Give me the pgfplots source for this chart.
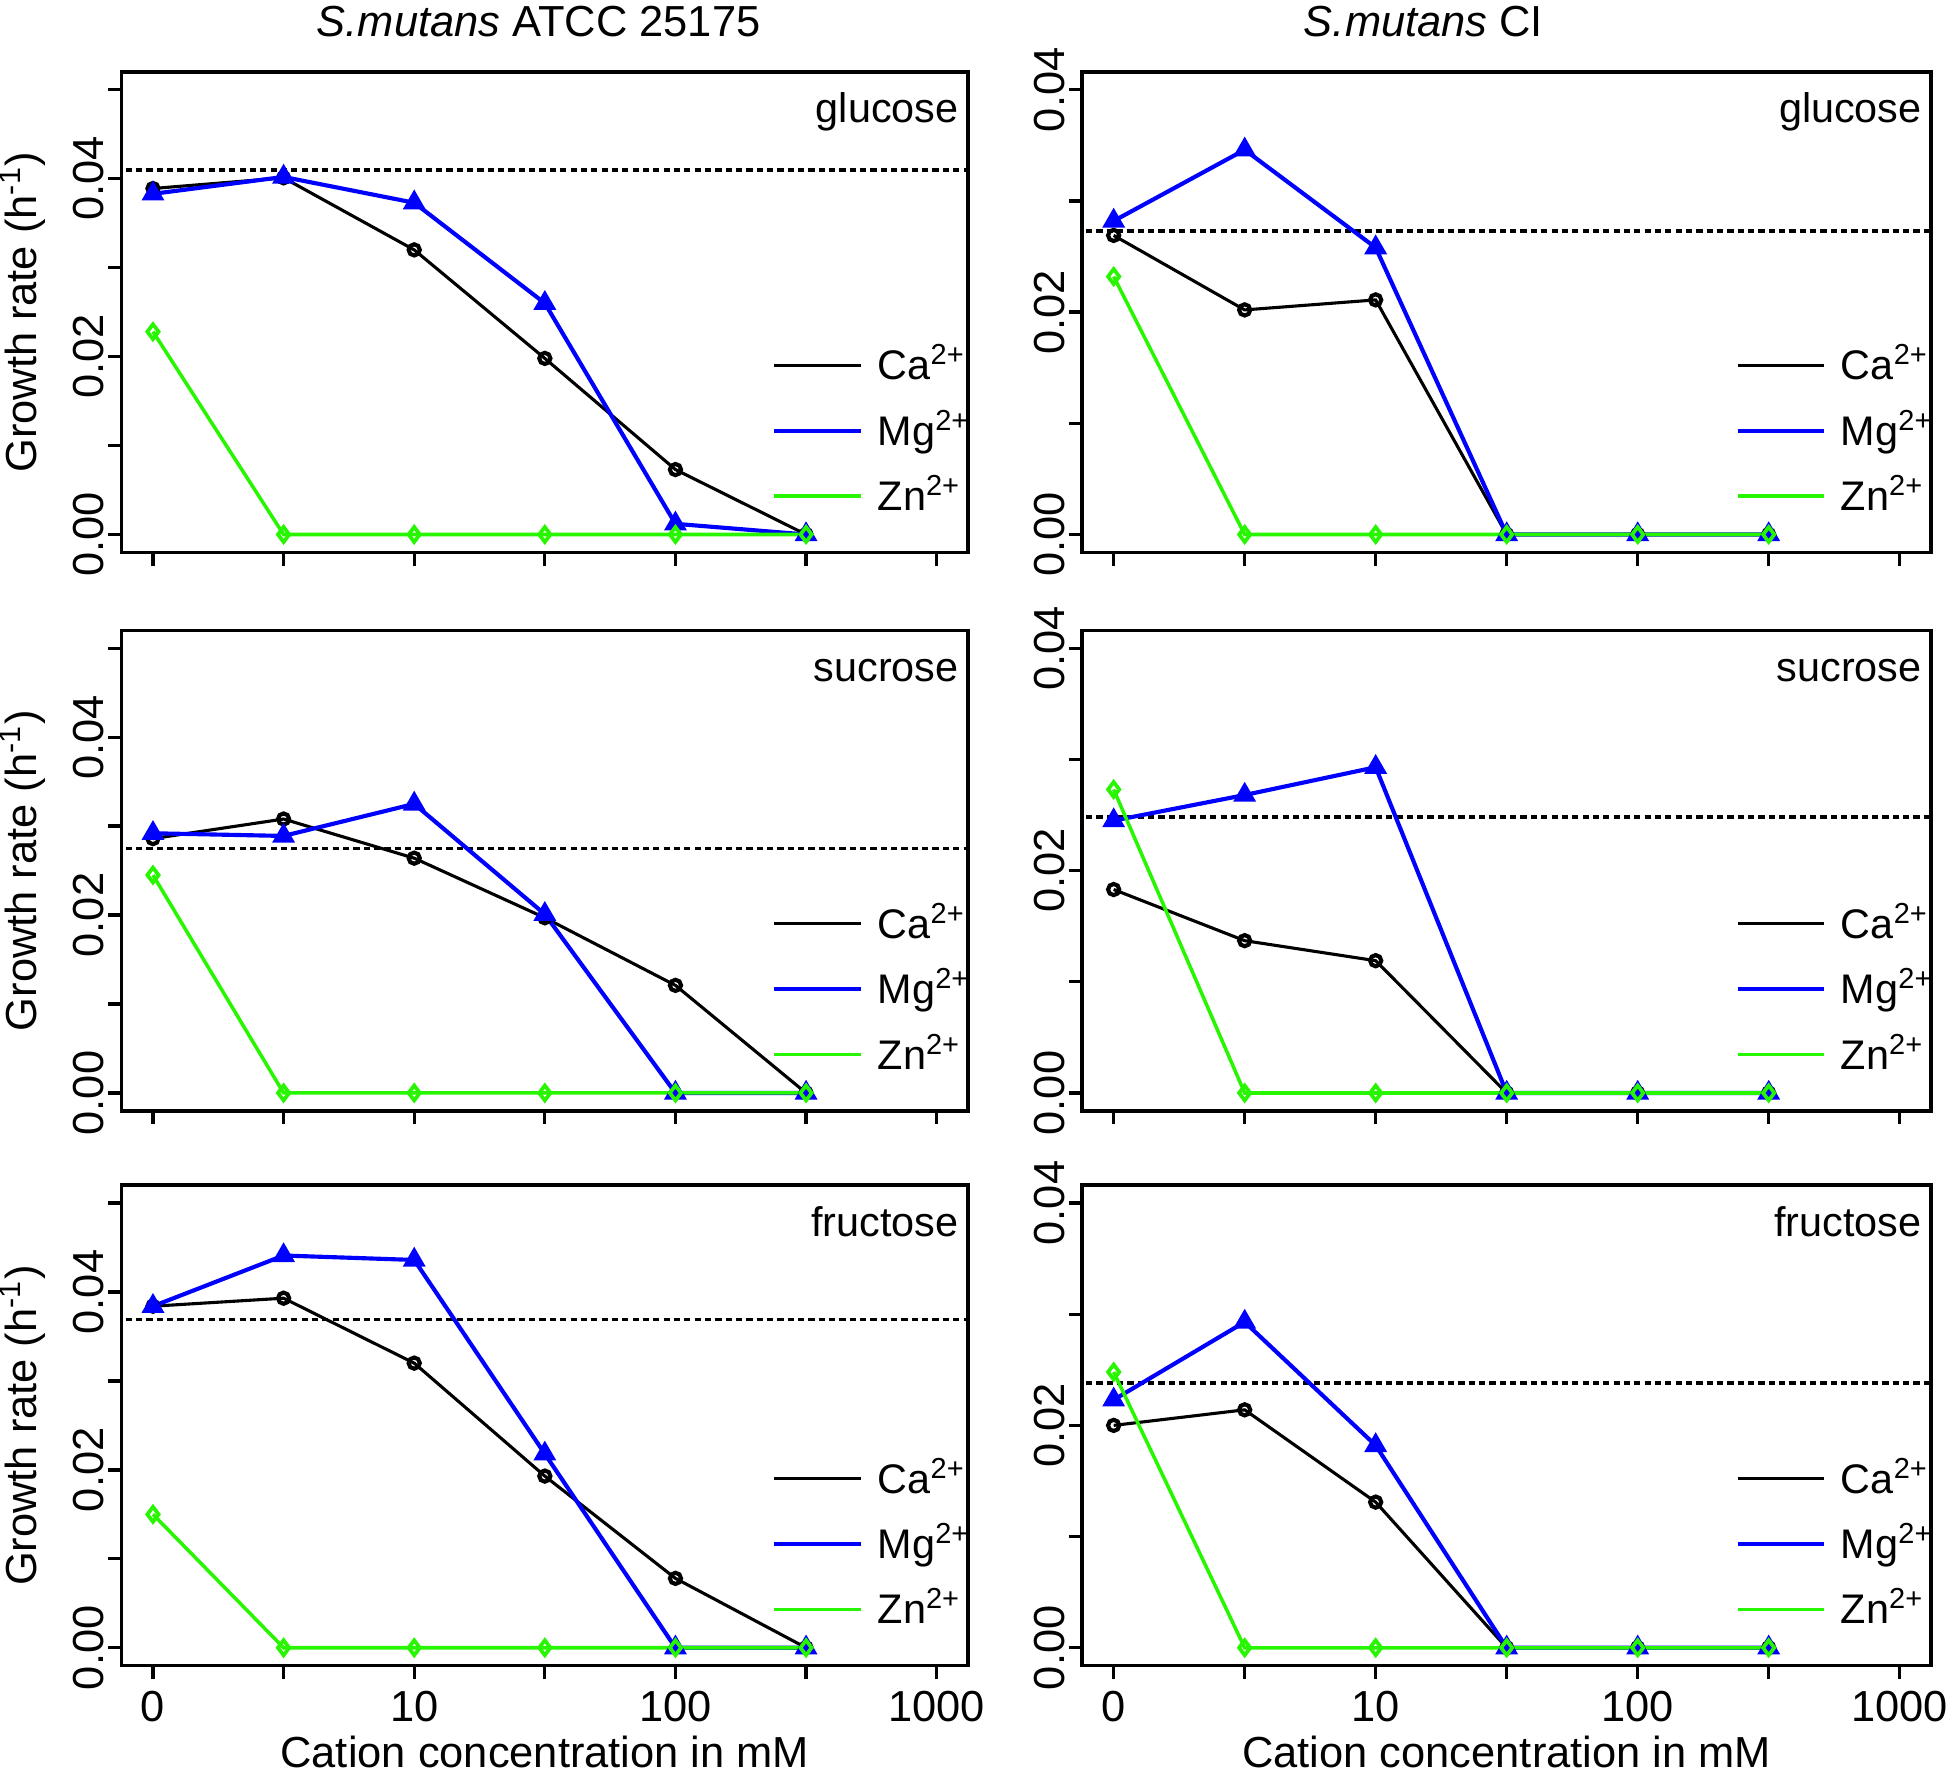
\documentclass[border=0pt]{standalone}
\usepackage{fontspec}
\setmainfont{Liberation Sans}
\usepackage{pgfplots}
\usepackage{pgfplotstable}
\pgfplotsset{compat=1.18}

\definecolor{rblue}{RGB}{0,0,255}
\definecolor{rgreen}{RGB}{40,245,0}

% x: 0 = 0 mM, 1 = 3 mM, 2 = 10 mM, 3 = 30 mM, 4 = 100 mM, 5 = 300 mM
\pgfplotstableread{
x ca mg zn
0 0.0389 0.0383 0.0228
1 0.0401 0.0402 0.0
2 0.0320 0.0373 0.0
3 0.0198 0.0260 0.0
4 0.0073 0.0012 0.0
5 0.0    0.0    0.0
}\glucA
\pgfplotstableread{
x ca mg zn
0 0.0269 0.0282 0.0232
1 0.0202 0.0346 0.0
2 0.0211 0.0258 0.0
3 0.0    0.0    0.0
4 0.0    0.0    0.0
5 0.0    0.0    0.0
}\glucB
\pgfplotstableread{
x ca mg zn
0 0.0286 0.0292 0.0245
1 0.0308 0.0289 0.0
2 0.0264 0.0325 0.0
3 0.0197 0.0201 0.0
4 0.0121 0.0    0.0
5 0.0    0.0    0.0
}\sucA
\pgfplotstableread{
x ca mg zn
0 0.0183 0.0245 0.0273
1 0.0137 0.0268 0.0
2 0.0119 0.0293 0.0
3 0.0    0.0    0.0
4 0.0    0.0    0.0
5 0.0    0.0    0.0
}\sucB
\pgfplotstableread{
x ca mg zn
0 0.0384 0.0384 0.0150
1 0.0393 0.0441 0.0
2 0.0320 0.0436 0.0
3 0.0193 0.0218 0.0
4 0.0078 0.0    0.0
5 0.0    0.0    0.0
}\fruA
\pgfplotstableread{
x ca mg zn
0 0.0200 0.0223 0.0248
1 0.0214 0.0293 0.0
2 0.0131 0.0182 0.0
3 0.0    0.0    0.0
4 0.0    0.0    0.0
5 0.0    0.0    0.0
}\fruB

\newcommand{\fnt}{\fontsize{10.5}{12.6}\selectfont}
\newcommand{\fnts}{\fontsize{10}{12}\selectfont}

\pgfplotsset{
  every axis title shift=0pt,
  panel/.style={
    scale only axis, height=116.1pt,
    xmin=-0.24, xmax=6.24,
    axis line style={line width=0.85pt},
    tick align=outside, tick pos=left,
    major tick length=3.2pt,
    tick style={black, line width=0.8pt},
    scaled y ticks=false,
    xtick={0,1,2,3,4,5,6}, xticklabels={},
    ticklabel style={font=\fnt},
    xticklabel style={anchor=north, inner sep=0pt, yshift=-2.7pt},
    yticklabel style={xshift=-0.9pt, rotate=90, anchor=south, inner sep=0pt},
    legend style={draw=none, fill=none, font=\fnts,
      at={([xshift=-47.5pt]axis description cs:1,0.253)}, anchor=west,
      inner sep=0pt, row sep=4.8pt, column sep=3pt,
      nodes={inner sep=0.5pt}},
    legend cell align=left,
    legend image code/.code={\draw[##1,mark=none] (0pt,0pt) -- (21pt,0pt);},
    title style={anchor=base, yshift=8.6pt, inner sep=0pt, font=\fnt},
    xlabel style={at={(axis description cs:0.5,0)}, anchor=north,
      yshift=-16.8pt, inner sep=0pt, font=\fnt},
    ylabel style={at={(axis description cs:-0.1173,0.5)}, anchor=center,
      inner sep=0pt, font=\fnt},
  },
  leftpanel/.style={panel, width=204.6pt,
    ymin=-0.002, ymax=0.052,
    ytick={0,0.01,0.02,0.03,0.04,0.05}, yticklabels={0.00,,0.02,,0.04,},
    ylabel={Growth rate (h\textsuperscript{-1})}},
  rightpanel/.style={panel, width=205.2pt,
    ymin=-0.0016, ymax=0.0416,
    ytick={0,0.01,0.02,0.03,0.04}, yticklabels={0.00,,0.02,,0.04}},
  bottomrow/.style={xticklabels={0,,10,,100,,1000},
    xlabel={Cation concentration in mM}},
  ca/.style={black, line width=0.75pt, mark=o, mark size=1.35pt,
    mark options={line width=1pt}},
  mg/.style={rblue, line width=1pt, mark=triangle*, mark size=2.2pt},
  zn/.style={rgreen, line width=0.85pt, mark=diamond, mark size=1.8pt,
    mark options={line width=0.9pt}},
  refl/.style={black, line width=0.9pt, dash pattern=on 1.5pt off 1pt,
    forget plot},
}

\newcommand{\panellabel}[1]{\node[anchor=base east, inner sep=0pt, font=\fnts]
  at ([xshift=-2.1pt,yshift=-12.3pt]rel axis cs:1,1) {#1};}
\newcommand{\series}[1]{%
  \addplot[ca] table[x=x,y=ca]{#1};
  \addplot[mg] table[x=x,y=mg]{#1};
  \addplot[zn] table[x=x,y=zn]{#1};
  \legend{Ca\textsuperscript{2+},Mg\textsuperscript{2+},Zn\textsuperscript{2+}}}

\begin{document}
\begin{tikzpicture}[font=\fnt]
\path[use as bounding box] (0,0) rectangle (470.4pt,-428.4pt);

% row 1: glucose
\begin{axis}[leftpanel, at={(29.4pt,-17.4pt)}, anchor=north west,
  title={\textit{S.mutans} ATCC 25175},
  title style={at={(axis description cs:0.4927,1)}}]
\addplot[refl] coordinates {(-1,0.0410) (7,0.0410)};
\series{\glucA}
\panellabel{glucose}
\end{axis}
\begin{axis}[rightpanel, at={(261.6pt,-17.4pt)}, anchor=north west,
  title={\textit{S.mutans} CI},
  title style={at={(axis description cs:0.402,1)}}]
\addplot[refl] coordinates {(-1,0.0273) (7,0.0273)};
\series{\glucB}
\panellabel{glucose}
\end{axis}

% row 2: sucrose
\begin{axis}[leftpanel, at={(29.4pt,-152.4pt)}, anchor=north west]
\addplot[refl] coordinates {(-1,0.0275) (7,0.0275)};
\series{\sucA}
\panellabel{sucrose}
\end{axis}
\begin{axis}[rightpanel, at={(261.6pt,-152.4pt)}, anchor=north west]
\addplot[refl] coordinates {(-1,0.0248) (7,0.0248)};
\series{\sucB}
\panellabel{sucrose}
\end{axis}

% row 3: fructose
\begin{axis}[leftpanel, bottomrow, at={(29.4pt,-286.5pt)}, anchor=north west]
\addplot[refl] coordinates {(-1,0.0369) (7,0.0369)};
\series{\fruA}
\panellabel{fructose}
\end{axis}
\begin{axis}[rightpanel, bottomrow, at={(261.6pt,-286.5pt)}, anchor=north west]
\addplot[refl] coordinates {(-1,0.0238) (7,0.0238)};
\series{\fruB}
\panellabel{fructose}
\end{axis}
\end{tikzpicture}
\end{document}
